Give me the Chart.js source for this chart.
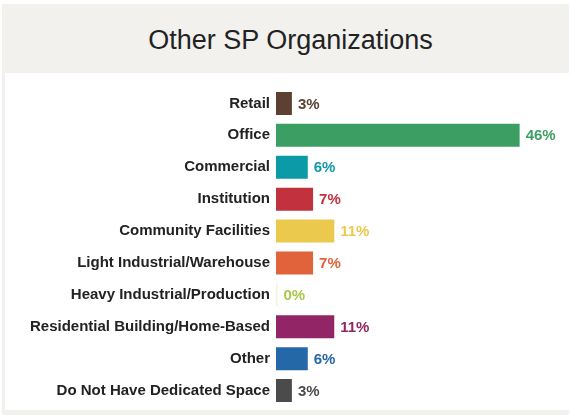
<!DOCTYPE html>
<html>
<head>
<meta charset="utf-8">
<script src="https://cdn.jsdelivr.net/npm/chart.js@4"></script>
<style>
  html, body { margin: 0; padding: 0; background: #ffffff; }
  #frame { position: absolute; left: 2px; top: 4px; width: 567px; height: 411px; background: #f2f1ee; }
  #title { position: absolute; left: 2px; top: 4px; width: 577px; height: 69px; line-height: 72px;
           text-align: center; font-family: "Liberation Sans", Arial, sans-serif; font-size: 27px; color: #222; }
  #panel { position: absolute; left: 5px; top: 73px; width: 564px; height: 337px; background: #ffffff; }
  #wrap { position: absolute; left: 0; top: 0; width: 571px; height: 417px; }
</style>
</head>
<body>
<div id="frame"></div>
<div id="panel"></div>
<div id="title">Other SP Organizations</div>
<div id="wrap"><canvas id="c" width="571" height="417"></canvas></div>
<script>
const categories = ["Retail", "Office", "Commercial", "Institution", "Community Facilities",
  "Light Industrial/Warehouse", "Heavy Industrial/Production", "Residential Building/Home-Based",
  "Other", "Do Not Have Dedicated Space"];
const values = [3, 46, 6, 7, 11, 7, 0, 11, 6, 3];
const barColors = ["#5c4133", "#3c9e62", "#0d9aa7", "#c1313e", "#ebc94d", "#e0633b",
  "#eef3dc", "#922566", "#2568a8", "#4b4b4b"];
const labelColors = ["#5c4133", "#3c9e62", "#0d9aa7", "#c1313e", "#ebc94d", "#e0633b",
  "#a8c84a", "#922566", "#2568a8", "#4b4b4b"];

const valueLabels = {
  id: "valueLabels",
  afterDatasetsDraw(chart) {
    const ctx = chart.ctx;
    const meta = chart.getDatasetMeta(0);
    ctx.save();
    ctx.font = "bold 15px 'Liberation Sans', Arial, sans-serif";
    ctx.textAlign = "left";
    ctx.textBaseline = "middle";
    meta.data.forEach((el, i) => {
      ctx.fillStyle = labelColors[i];
      ctx.fillText(values[i] + "%", el.x + 6, el.y + 1);
    });
    ctx.restore();
  }
};

new Chart(document.getElementById("c"), {
  type: "bar",
  data: {
    labels: categories,
    datasets: [{
      data: values,
      backgroundColor: barColors,
      borderWidth: 0,
      minBarLength: 1.5,
      barPercentage: 0.72,
      categoryPercentage: 1
    }]
  },
  options: {
    indexAxis: "y",
    responsive: false,
    animation: false,
    devicePixelRatio: 1,
    layout: { padding: { top: 87.5, bottom: 10.5, left: 0, right: 9 } },
    plugins: { legend: { display: false }, tooltip: { enabled: false }, title: { display: false } },
    scales: {
      x: { display: false, min: 0, max: 54 },
      y: {
        grid: { display: false, drawTicks: false },
        border: { display: false },
        ticks: {
          padding: 6,
          color: "#222222",
          font: { family: "'Liberation Sans', Arial, sans-serif", size: 15, weight: "bold" }
        },
        afterFit(scale) {
          scale.width = 276;
          scale.paddingTop = 0;
          scale.paddingBottom = 0;
        }
      }
    }
  },
  plugins: [valueLabels]
});
</script>
</body>
</html>
